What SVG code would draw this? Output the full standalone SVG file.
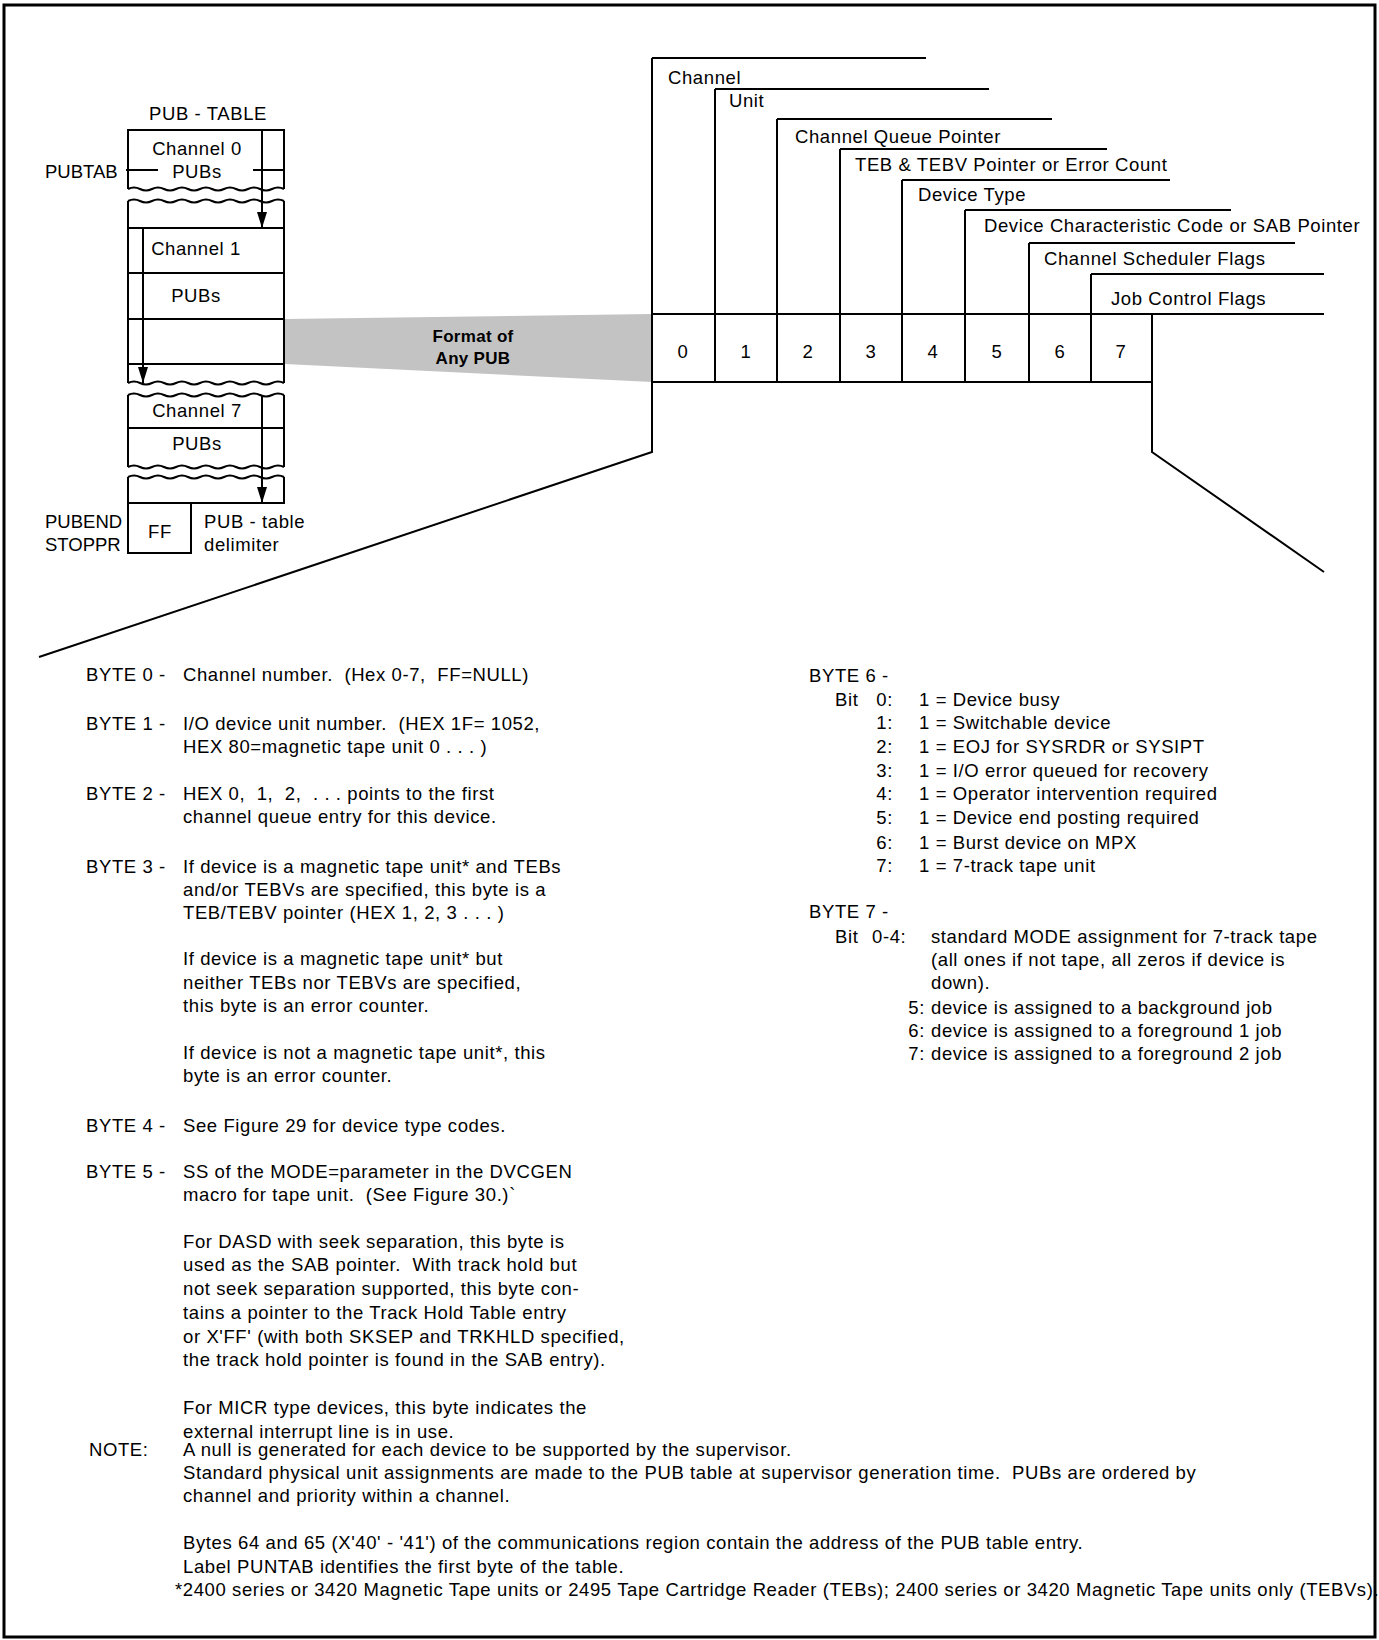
<svg xmlns="http://www.w3.org/2000/svg" width="1379" height="1640" viewBox="0 0 1379 1640">
<defs>
<style>
text{font-family:"Liberation Sans",Arial,sans-serif;font-size:18.5px;fill:#000;white-space:pre;letter-spacing:0.6px}
.c{text-anchor:middle}
.e{text-anchor:end}
.lab{letter-spacing:0px}
.ln{stroke:#000;stroke-width:2;fill:none}
.bx{stroke:#000;stroke-width:2;fill:#fff}
</style>
<marker id="ad" viewBox="0 0 16 10" refX="16" refY="5" markerWidth="16" markerHeight="10" markerUnits="userSpaceOnUse" orient="auto">
<path d="M0,0 L16,5 L0,10 Z" fill="#000"/>
</marker>
</defs>
<rect x="4" y="5" width="1371" height="1632" fill="#fff" stroke="#000" stroke-width="3"/>

<!-- PUB table -->
<g id="pub-table">
<text class="c" x="208" y="120">PUB - TABLE</text>
<text class="lab" x="45" y="178">PUBTAB</text>
<path class="ln" d="M126,170 L158,170 M253,170 L284,170"/>
<g id="block-ch0">
<path class="ln" d="M128,189 L128,130 L284,130 L284,189"/>
<path class="ln" d="M128,189 q6,-3 12,0 t12,0 t12,0 t12,0 t12,0 t12,0 t12,0 t12,0 t12,0 t12,0 t12,0 t12,0 t12,0"/>
<text class="c" x="197" y="155">Channel 0</text>
<text class="c" x="197" y="178">PUBs</text>
</g>
<g id="block-ch1">
<path class="ln" d="M128,201 q6,-3 12,0 t12,0 t12,0 t12,0 t12,0 t12,0 t12,0 t12,0 t12,0 t12,0 t12,0 t12,0 t12,0"/>
<path class="ln" d="M128,201 L128,383 M284,201 L284,383 M128,228 L284,228 M128,273 L284,273 M128,319 L284,319 M128,364 L284,364"/>
<path class="ln" d="M128,383 q6,-3 12,0 t12,0 t12,0 t12,0 t12,0 t12,0 t12,0 t12,0 t12,0 t12,0 t12,0 t12,0 t12,0"/>
<text class="c" x="196" y="255">Channel 1</text>
<text class="c" x="196" y="302">PUBs</text>
</g>
<g id="block-ch7">
<path class="ln" d="M128,395 q6,-3 12,0 t12,0 t12,0 t12,0 t12,0 t12,0 t12,0 t12,0 t12,0 t12,0 t12,0 t12,0 t12,0"/>
<path class="ln" d="M128,395 L128,467 M284,395 L284,467 M128,428 L284,428"/>
<path class="ln" d="M128,467 q6,-3 12,0 t12,0 t12,0 t12,0 t12,0 t12,0 t12,0 t12,0 t12,0 t12,0 t12,0 t12,0 t12,0"/>
<text class="c" x="197" y="417">Channel 7</text>
<text class="c" x="197" y="450">PUBs</text>
</g>
<g id="block-end">
<path class="ln" d="M128,477 q6,-3 12,0 t12,0 t12,0 t12,0 t12,0 t12,0 t12,0 t12,0 t12,0 t12,0 t12,0 t12,0 t12,0"/>
<path class="ln" d="M128,477 L128,503 L284,503 L284,477"/>
</g>
<g id="ff-box">
<rect class="bx" x="128" y="503" width="63" height="50"/>
<text class="c" x="160" y="538">FF</text>
</g>
<text class="lab" x="45" y="528">PUBEND</text>
<text class="lab" x="45" y="551">STOPPR</text>
<text x="204" y="528">PUB - table</text>
<text x="204" y="551">delimiter</text>
</g>

<!-- shaded band -->
<g id="band">
<polygon points="285,319 652,314 652,382 285,364" fill="#c3c3c3"/>
<text class="c" x="473" y="342" style="font-weight:bold;font-size:17px;letter-spacing:0.3px">Format of</text>
<text class="c" x="473" y="364" style="font-weight:bold;font-size:17px;letter-spacing:0.3px">Any PUB</text>
</g>

<!-- connectors -->
<g id="connectors">
<path class="ln" d="M262,130 L262,228" marker-end="url(#ad)"/>
<path class="ln" d="M143,228 L143,383" marker-end="url(#ad)"/>
<path class="ln" d="M262,395 L262,503" marker-end="url(#ad)"/>
<path class="ln" d="M652,382 L652,452 L39,657"/>
<path class="ln" d="M1152,382 L1152,452 L1324,572"/>
</g>

<!-- PUB format -->
<g id="pub-format">
<path class="ln" d="M652,58 L926,58 M652,58 L652,382"/>
<path class="ln" d="M715,89 L989,89 M715,89 L715,382"/>
<path class="ln" d="M777,119 L1052,119 M777,119 L777,382"/>
<path class="ln" d="M840,149 L1107,149 M840,149 L840,382"/>
<path class="ln" d="M902,180 L1170,180 M902,180 L902,382"/>
<path class="ln" d="M965,210 L1231,210 M965,210 L965,382"/>
<path class="ln" d="M1029,243 L1295,243 M1029,243 L1029,382"/>
<path class="ln" d="M1091,274 L1324,274 M1091,274 L1091,382"/>
<path class="ln" d="M652,314 L1324,314 M652,382 L1152,382 M1152,314 L1152,382"/>
<text x="668" y="84">Channel</text>
<text x="729" y="107">Unit</text>
<text x="795" y="143">Channel Queue Pointer</text>
<text x="855" y="171">TEB &amp; TEBV Pointer or Error Count</text>
<text x="918" y="201">Device Type</text>
<text x="984" y="232">Device Characteristic Code or SAB Pointer</text>
<text x="1044" y="265">Channel Scheduler Flags</text>
<text x="1111" y="305">Job Control Flags</text>
<text class="c" x="683" y="358">0</text>
<text class="c" x="746" y="358">1</text>
<text class="c" x="808" y="358">2</text>
<text class="c" x="871" y="358">3</text>
<text class="c" x="933" y="358">4</text>
<text class="c" x="997" y="358">5</text>
<text class="c" x="1060" y="358">6</text>
<text class="c" x="1121" y="358">7</text>
</g>

<!-- left column text -->
<g id="text-left">
<text x="86" y="681">BYTE 0 -</text>
<text x="183" y="681">Channel number.  (Hex 0-7,  FF=NULL)</text>
<text x="86" y="730">BYTE 1 -</text>
<text x="183" y="730">I/O device unit number.  (HEX 1F= 1052,</text>
<text x="183" y="753">HEX 80=magnetic tape unit 0 . . . )</text>
<text x="86" y="800">BYTE 2 -</text>
<text x="183" y="800">HEX 0,  1,  2,  . . . points to the first</text>
<text x="183" y="823">channel queue entry for this device.</text>
<text x="86" y="873">BYTE 3 -</text>
<text x="183" y="873">If device is a magnetic tape unit* and TEBs</text>
<text x="183" y="896">and/or TEBVs are specified, this byte is a</text>
<text x="183" y="919">TEB/TEBV pointer (HEX 1, 2, 3 . . . )</text>
<text x="183" y="965">If device is a magnetic tape unit* but</text>
<text x="183" y="989">neither TEBs nor TEBVs are specified,</text>
<text x="183" y="1012">this byte is an error counter.</text>
<text x="183" y="1059">If device is not a magnetic tape unit*, this</text>
<text x="183" y="1082">byte is an error counter.</text>
<text x="86" y="1132">BYTE 4 -</text>
<text x="183" y="1132">See Figure 29 for device type codes.</text>
<text x="86" y="1178">BYTE 5 -</text>
<text x="183" y="1178">SS of the MODE=parameter in the DVCGEN</text>
<text x="183" y="1201">macro for tape unit.  (See Figure 30.)`</text>
<text x="183" y="1248">For DASD with seek separation, this byte is</text>
<text x="183" y="1271">used as the SAB pointer.  With track hold but</text>
<text x="183" y="1295">not seek separation supported, this byte con-</text>
<text x="183" y="1319">tains a pointer to the Track Hold Table entry</text>
<text x="183" y="1343">or X'FF' (with both SKSEP and TRKHLD specified,</text>
<text x="183" y="1366">the track hold pointer is found in the SAB entry).</text>
<text x="183" y="1414">For MICR type devices, this byte indicates the</text>
<text x="183" y="1438">external interrupt line is in use.</text>
</g>

<!-- right column text -->
<g id="text-right">
<text x="809" y="682">BYTE 6 -</text>
<text x="835" y="706">Bit</text>
<text class="e" x="893" y="706">0:</text>
<text x="919" y="706">1 = Device busy</text>
<text class="e" x="893" y="729">1:</text>
<text x="919" y="729">1 = Switchable device</text>
<text class="e" x="893" y="753">2:</text>
<text x="919" y="753">1 = EOJ for SYSRDR or SYSIPT</text>
<text class="e" x="893" y="777">3:</text>
<text x="919" y="777">1 = I/O error queued for recovery</text>
<text class="e" x="893" y="800">4:</text>
<text x="919" y="800">1 = Operator intervention required</text>
<text class="e" x="893" y="824">5:</text>
<text x="919" y="824">1 = Device end posting required</text>
<text class="e" x="893" y="849">6:</text>
<text x="919" y="849">1 = Burst device on MPX</text>
<text class="e" x="893" y="872">7:</text>
<text x="919" y="872">1 = 7-track tape unit</text>
<text x="809" y="918">BYTE 7 -</text>
<text x="835" y="943">Bit</text>
<text x="872" y="943">0-4:</text>
<text x="931" y="943">standard MODE assignment for 7-track tape</text>
<text x="931" y="966">(all ones if not tape, all zeros if device is</text>
<text x="931" y="989">down).</text>
<text class="e" x="925" y="1014">5:</text>
<text x="931" y="1014">device is assigned to a background job</text>
<text class="e" x="925" y="1037">6:</text>
<text x="931" y="1037">device is assigned to a foreground 1 job</text>
<text class="e" x="925" y="1060">7:</text>
<text x="931" y="1060">device is assigned to a foreground 2 job</text>
</g>

<!-- notes -->
<g id="notes">
<text x="89" y="1456">NOTE:</text>
<text x="183" y="1456">A null is generated for each device to be supported by the supervisor.</text>
<text x="183" y="1479">Standard physical unit assignments are made to the PUB table at supervisor generation time.  PUBs are ordered by</text>
<text x="183" y="1502">channel and priority within a channel.</text>
<text x="183" y="1549">Bytes 64 and 65 (X'40' - '41') of the communications region contain the address of the PUB table entry.</text>
<text x="183" y="1573">Label PUNTAB identifies the first byte of the table.</text>
<text x="175" y="1596">*2400 series or 3420 Magnetic Tape units or 2495 Tape Cartridge Reader (TEBs); 2400 series or 3420 Magnetic Tape units only (TEBVs).</text>
</g>
</svg>
